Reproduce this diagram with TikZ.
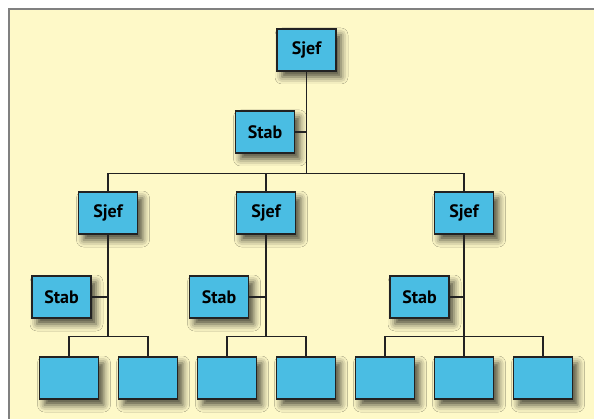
\documentclass[tikz,border=0pt]{standalone}
\usepackage{fontspec}
\setmainfont{PT Sans}
\usetikzlibrary{shadows.blur}
\definecolor{paper}{HTML}{FEF9C8}
\definecolor{boxblue}{HTML}{4ABDE3}
\definecolor{edge}{HTML}{222222}
\tikzset{
  unit/.style={rectangle, draw=edge, line width=1.3pt, fill=boxblue, minimum width=59pt, minimum height=42pt, inner sep=0pt, text=black, font=\fontsize{18}{21}\selectfont\bfseries, blur shadow={shadow xshift=5pt, shadow yshift=-6pt, shadow blur radius=7pt, shadow opacity=70}},
  link/.style={draw=edge, line width=1.2pt}
}
\begin{document}
\begin{tikzpicture}[x=1pt, y=-1pt]
            \useasboundingbox (0,0) rectangle (594,419);
            \fill[paper] (9,9) rectangle (594,419);
            \draw[gray, line width=1.2pt] (9,419) |- (594,9);
            \coordinate (bus) at (306.5,173.5);
            \coordinate (forkL) at (108,336.5);
            \coordinate (forkM) at (266,336.5);
            \coordinate (forkR) at (464,336.5);
            \node [unit] (top) at (306.5,50) {Sjef};
            \node [unit] (stab0) at (265,132) {Stab};
            \node [unit] (sjefL) at (108,213) {Sjef};
            \node [unit] (sjefM) at (266,213) {Sjef};
            \node [unit] (sjefR) at (464,213) {Sjef};
            \node [unit] (stabL) at (61.5,297) {Stab};
            \node [unit] (stabM) at (219,297) {Stab};
            \node [unit] (stabR) at (419.5,297) {Stab};
            \foreach \x/\n in {69/a, 148/b, 227/c, 306/d, 385/e, 464/f, 543/g}
                \node [unit] (leaf\n) at (\x,378) {};
            \draw[link] (top.south) -- (bus);
            \draw[link] (sjefL.north) |- (bus) -| (sjefR.north);
            \draw[link] (sjefM.north) -- (sjefM.north |- bus);
            \draw[link] (stab0.east) -- (stab0.east -| top.south);
            \draw[link] (sjefL.south) -- (forkL);
            \draw[link] (sjefM.south) -- (forkM);
            \draw[link] (sjefR.south) -- (leaff.north);
            \draw[link] (stabL.east) -- (stabL.east -| sjefL.south);
            \draw[link] (stabM.east) -- (stabM.east -| sjefM.south);
            \draw[link] (stabR.east) -- (stabR.east -| sjefR.south);
            \draw[link] (leafa.north) |- (forkL) -| (leafb.north);
            \draw[link] (leafc.north) |- (forkM) -| (leafd.north);
            \draw[link] (leafe.north) |- (forkR) -| (leafg.north);
        \end{tikzpicture}
\end{document}
